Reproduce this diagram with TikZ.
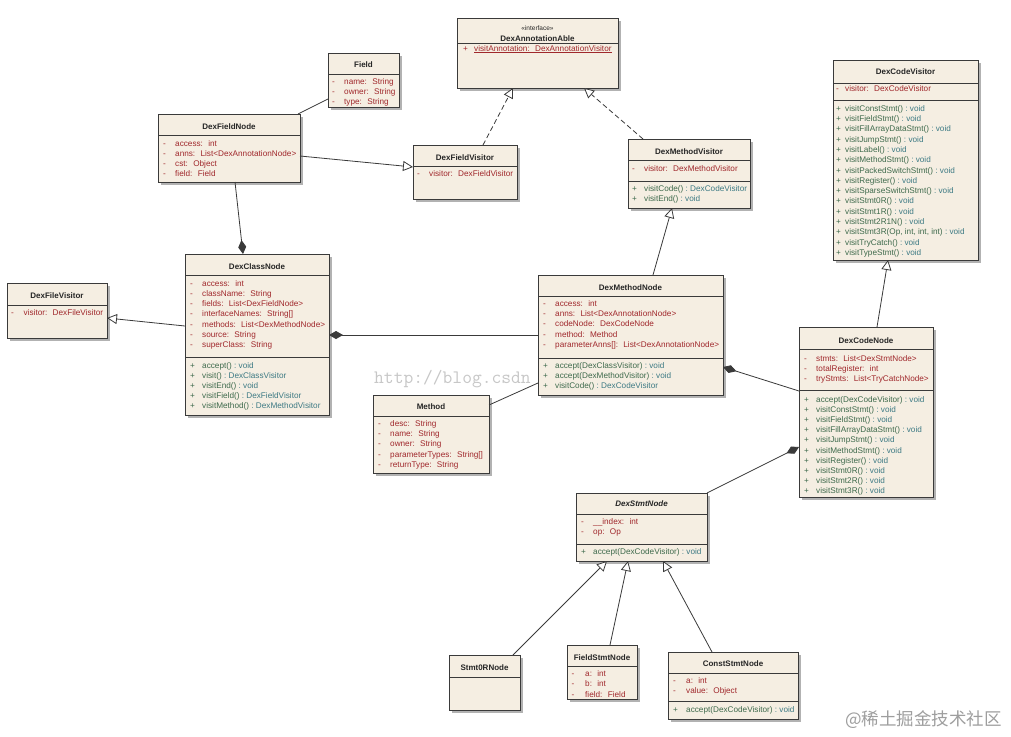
\documentclass[tikz,border=0pt]{standalone}
\usepackage{fontspec}
\setmainfont{Liberation Sans}
\newfontfamily\cjkfont{Noto Sans CJK SC}
\usetikzlibrary{arrows.meta,calc}
\definecolor{fillc}{HTML}{F5EEE2}
\definecolor{linec}{HTML}{3A3A3A}
\definecolor{attrc}{HTML}{A0282C}
\definecolor{methc}{HTML}{3E6A4C}
\definecolor{typec}{HTML}{3D7A84}
\def\symx{5}\def\txtx{17}
\newcommand\ubox[5]{%
  \fill[shadec] (#2+2.5,#3+2.5) rectangle (#4+2.5,#5+2.5);
  \node[box, anchor=north west, minimum width={#4-#2}, minimum height={#5-#3}] (#1) at (#2,#3) {};}
\newcommand\ttl[3]{\node[title] at (#1,#2) {#3};}
\newcommand\hsep[3]{\draw[sepl] (#1,#3) -- (#2,#3);}
\newcommand\attr[4]{\node[row,text=attrc] at (#1+\symx,#2) {-};
  \node[row,text=attrc] at (#1+\txtx,#2) {#3:~ #4};}
\newcommand\meth[4]{\node[row,text=methc] at (#1+\symx,#2) {+};
  \node[row] at (#1+\txtx,#2) {\textcolor{methc}{#3}\ \textcolor{typec}{:\ #4}};}
\begin{document}
\begin{tikzpicture}[x=1pt,y=-1pt,
  box/.style={draw=linec, line width=0.9pt, fill=fillc, inner sep=0pt, outer sep=0pt},
  shadec/.style={fill=black!30},
  sepl/.style={draw=linec, line width=0.8pt},
  title/.style={font=\fontsize{8}{9}\selectfont\bfseries, inner sep=0pt, text=black!85},
  row/.style={font=\fontsize{8.2}{9}\selectfont, inner sep=0pt, anchor=west, text height=6pt, text depth=2pt},
  conn/.style={draw=linec, line width=0.8pt},
  gen/.style={conn, -{Triangle[length=10pt, width=10pt, fill=white]}},
  real/.style={gen, dash pattern=on 5pt off 3pt},
  comp/.style={conn, {Diamond[length=14pt, width=8pt]}-},
]
\fill[white] (0,0) rectangle (1011,736);
\useasboundingbox (0,0) rectangle (1011,736);
% watermarks
\node[anchor=west, inner sep=0pt, text=black!22, font=\ttfamily\fontsize{19}{20}\selectfont] (wm1) at (374,379) {http://blog.csdn};
\node[anchor=west, inner sep=0pt, text=black!38, font=\cjkfont\fontsize{17.5}{18}\selectfont] (wm2) at (845,720) {@稀土掘金技术社区};

% ---------- Field
\ubox{field}{328}{53}{399}{107}
\ttl{363.5}{65}{Field}
\hsep{328}{399}{74}
\def\symx{4}\def\txtx{16}
\attr{328}{82.5}{name}{String}
\attr{328}{92.5}{owner}{String}
\attr{328}{102.5}{type}{String}
\def\symx{5}\def\txtx{17}

% ---------- DexFieldNode
\ubox{fieldnode}{158}{114}{300}{182}
\ttl{229}{126.7}{DexFieldNode}
\hsep{158}{300}{135.5}
\attr{158}{144}{access}{int}
\attr{158}{154.2}{anns}{List<DexAnnotationNode>}
\attr{158}{164.3}{cst}{Object}
\attr{158}{174.4}{field}{Field}

% ---------- DexAnnotationAble
\ubox{annot}{457}{18}{618}{88}
\node[title, font=\fontsize{6.5}{7}\selectfont] at (537.5,28) {«interface»};
\ttl{537.5}{38.3}{DexAnnotationAble}
\hsep{457}{618}{43.3}
\node[row,text=attrc] at (457+6,49) {+};
\node[row,text=attrc] at (457+17,49) {\underline{visitAnnotation:~ DexAnnotationVisitor}};

% ---------- DexFieldVisitor
\ubox{fieldvis}{413}{145}{517}{199}
\ttl{465}{157.3}{DexFieldVisitor}
\hsep{413}{517}{166}
\def\symx{4}\def\txtx{16}
\attr{413}{174}{visitor}{DexFieldVisitor}

% ---------- DexMethodVisitor
\ubox{methvis}{628}{139}{750}{208}
\ttl{689}{151.7}{DexMethodVisitor}
\hsep{628}{750}{160}
\attr{628}{169.5}{visitor}{DexMethodVisitor}
\hsep{628}{750}{181}
\meth{628}{189.5}{visitCode()}{DexCodeVisitor}
\meth{628}{199.5}{visitEnd()}{void}

% ---------- DexCodeVisitor
\ubox{codevis}{833}{60}{978}{260}
\ttl{905.5}{71.7}{DexCodeVisitor}
\hsep{833}{978}{83}
\def\symx{3}\def\txtx{12}
\attr{833}{89.5}{visitor}{DexCodeVisitor}
\hsep{833}{978}{100}
\meth{833}{109.3}{visitConstStmt()}{void}
\meth{833}{119.6}{visitFieldStmt()}{void}
\meth{833}{129.9}{visitFillArrayDataStmt()}{void}
\meth{833}{140.2}{visitJumpStmt()}{void}
\meth{833}{150.5}{visitLabel()}{void}
\meth{833}{160.8}{visitMethodStmt()}{void}
\meth{833}{171.0}{visitPackedSwitchStmt()}{void}
\meth{833}{181.3}{visitRegister()}{void}
\meth{833}{191.6}{visitSparseSwitchStmt()}{void}
\meth{833}{201.9}{visitStmt0R()}{void}
\meth{833}{212.2}{visitStmt1R()}{void}
\meth{833}{222.5}{visitStmt2R1N()}{void}
\meth{833}{232.8}{visitStmt3R(Op, int, int, int)}{void}
\meth{833}{243.1}{visitTryCatch()}{void}
\meth{833}{253.4}{visitTypeStmt()}{void}
\def\symx{5}\def\txtx{17}

% ---------- DexFileVisitor
\ubox{filevis}{7}{283}{107}{338}
\ttl{57}{296}{DexFileVisitor}
\hsep{7}{107}{305}
\def\symx{4}\def\txtx{16.5}
\attr{7}{313}{visitor}{DexFileVisitor}
\def\symx{5}\def\txtx{17}

% ---------- DexClassNode
\ubox{classnode}{185}{254}{329}{415}
\ttl{257}{266.7}{DexClassNode}
\hsep{185}{329}{275.5}
\attr{185}{284}{access}{int}
\attr{185}{294.3}{className}{String}
\attr{185}{304.6}{fields}{List<DexFieldNode>}
\attr{185}{314.9}{interfaceNames}{String[]}
\attr{185}{325.2}{methods}{List<DexMethodNode>}
\attr{185}{335.5}{source}{String}
\attr{185}{345.8}{superClass}{String}
\hsep{185}{329}{357}
\meth{185}{366.7}{accept()}{void}
\meth{185}{376.7}{visit()}{DexClassVisitor}
\meth{185}{386.7}{visitEnd()}{void}
\meth{185}{396.7}{visitField()}{DexFieldVisitor}
\meth{185}{406.7}{visitMethod()}{DexMethodVisitor}

% ---------- DexMethodNode
\ubox{methnode}{538}{275}{723}{395}
\ttl{630.5}{287.3}{DexMethodNode}
\hsep{538}{723}{296}
\attr{538}{304.3}{access}{int}
\attr{538}{314.5}{anns}{List<DexAnnotationNode>}
\attr{538}{324.8}{codeNode}{DexCodeNode}
\attr{538}{335}{method}{Method}
\attr{538}{345.2}{parameterAnns[]}{List<DexAnnotationNode>}
\hsep{538}{723}{358}
\meth{538}{366}{accept(DexClassVisitor)}{void}
\meth{538}{376.3}{accept(DexMethodVisitor)}{void}
\meth{538}{386.6}{visitCode()}{DexCodeVisitor}

% ---------- Method
\ubox{method}{373}{395}{489}{473}
\ttl{431}{406.7}{Method}
\hsep{373}{489}{416}
\attr{373}{424.3}{desc}{String}
\attr{373}{434.5}{name}{String}
\attr{373}{444.7}{owner}{String}
\attr{373}{455}{parameterTypes}{String[]}
\attr{373}{465.2}{returnType}{String}

% ---------- DexCodeNode
\ubox{codenode}{799}{327}{933}{497}
\ttl{866}{340.7}{DexCodeNode}
\hsep{799}{933}{349.5}
\attr{799}{359.3}{stmts}{List<DexStmtNode>}
\attr{799}{369.6}{totalRegister}{int}
\attr{799}{379.9}{tryStmts}{List<TryCatchNode>}
\hsep{799}{933}{390.5}
\meth{799}{400}{accept(DexCodeVisitor)}{void}
\meth{799}{410.2}{visitConstStmt()}{void}
\meth{799}{420.4}{visitFieldStmt()}{void}
\meth{799}{430.6}{visitFillArrayDataStmt()}{void}
\meth{799}{440.8}{visitJumpStmt()}{void}
\meth{799}{451}{visitMethodStmt()}{void}
\meth{799}{461.2}{visitRegister()}{void}
\meth{799}{471.4}{visitStmt0R()}{void}
\meth{799}{481.6}{visitStmt2R()}{void}
\meth{799}{491.8}{visitStmt3R()}{void}

% ---------- DexStmtNode
\ubox{stmtnode}{576}{493}{707}{561}
\node[title, font=\fontsize{8}{9}\selectfont\bfseries\itshape] at (641.5,504) {DexStmtNode};
\hsep{576}{707}{514}
\attr{576}{522.7}{\_\_index}{int}
\attr{576}{532.5}{op}{Op}
\hsep{576}{707}{544}
\meth{576}{552.3}{accept(DexCodeVisitor)}{void}

% ---------- Stmt0RNode
\ubox{stmt0r}{449}{655}{520}{710}
\ttl{484.5}{667.7}{Stmt0RNode}
\hsep{449}{520}{677}

% ---------- FieldStmtNode
\ubox{fieldstmt}{567}{645}{637}{699.5}
\ttl{602}{657.3}{FieldStmtNode}
\hsep{567}{637}{666.5}
\def\symx{4.5}\def\txtx{18}
\attr{567}{674.6}{a}{int}
\attr{567}{684.8}{b}{int}
\attr{567}{695}{field}{Field}
\def\symx{5}\def\txtx{17}

% ---------- ConstStmtNode
\ubox{conststmt}{668}{652}{798}{719}
\ttl{733}{663.3}{ConstStmtNode}
\hsep{668}{798}{673.3}
\def\symx{5}\def\txtx{18}
\attr{668}{681.2}{a}{int}
\attr{668}{691}{value}{Object}
\hsep{668}{798}{701}
\meth{668}{710.7}{accept(DexCodeVisitor)}{void}
\def\symx{5}\def\txtx{17}

% ---------- connectors
\draw[conn] ($(field.north west)+(0,46)$) -- ($(fieldnode.north west)+(140,0)$);
\draw[gen] ($(fieldnode.north west)+(142,42)$) -- ($(fieldvis.north west)+(0,22)$);
\draw[real] ($(fieldvis.north west)+(70,0)$) -- ($(annot.north west)+(56,70)$);
\draw[real] ($(methvis.north west)+(15,0)$) -- ($(annot.north west)+(127,70)$);
\draw[gen] ($(methnode.north west)+(115,0)$) -- ($(methvis.north west)+(44,69)$);
\draw[gen] ($(codenode.north west)+(78,0)$) -- ($(codevis.north west)+(55,200)$);
\draw[gen] ($(classnode.north west)+(0,72)$) -- ($(filevis.north west)+(100,35)$);
\draw[comp] ($(classnode.north west)+(58,0)$) -- ($(fieldnode.north west)+(77,68)$);
\draw[comp] ($(classnode.north west)+(144,81)$) -- ($(methnode.north west)+(0,60)$);
\draw[comp] ($(methnode.north west)+(185,92)$) -- ($(codenode.north west)+(0,64)$);
\draw[conn] ($(method.north west)+(116,10)$) -- ($(methnode.north west)+(0,108)$);
\draw[comp] ($(codenode.north west)+(0,120)$) -- (stmtnode.north east);
\draw[gen] ($(stmt0r.north west)+(64,0)$) -- ($(stmtnode.north west)+(31,68)$);
\draw[gen] ($(fieldstmt.north west)+(43,0)$) -- ($(stmtnode.north west)+(52,68)$);
\draw[gen] ($(conststmt.north west)+(44,0)$) -- ($(stmtnode.north west)+(87,68)$);
\end{tikzpicture}
\end{document}
